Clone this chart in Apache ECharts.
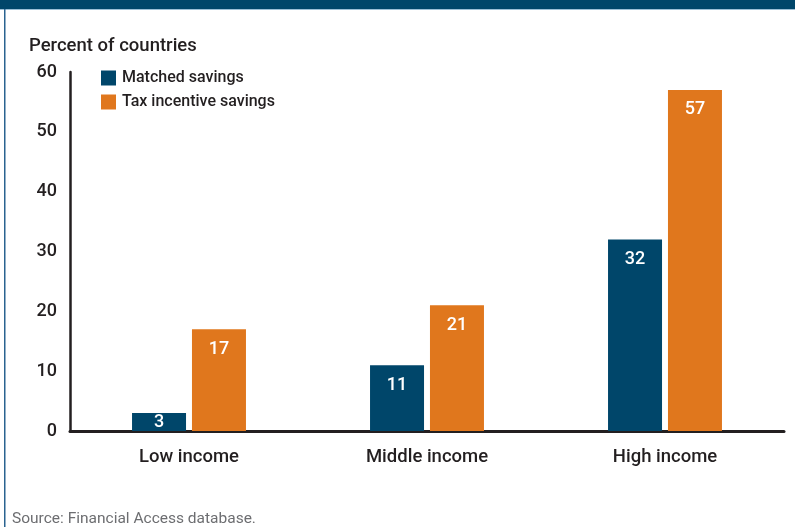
<!DOCTYPE html>
<html>
<head>
<meta charset="utf-8">
<script src="https://cdn.jsdelivr.net/npm/echarts@6/dist/echarts.min.js"></script>
<style>
  html, body { margin: 0; padding: 0; background: #fff; }
  #chart { width: 795px; height: 527px; }
</style>
</head>
<body>
<div id="chart"></div>
<script>
// Share of countries offering savings incentives, by income group
const categories = ['Low income', 'Middle income', 'High income'];
const matchedSavings = [3, 11, 32];
const taxIncentiveSavings = [17, 21, 57];
const seriesNames = ['Matched savings', 'Tax incentive savings'];
const yTicks = { min: 0, max: 60, interval: 10 };

const FONT = 'Roboto';
const BLUE = '#00466a';
const ORANGE = '#e0771d';
const INK = '#231f20';

const chart = echarts.init(document.getElementById('chart'), null, { renderer: 'canvas' });

function valueLabel(v) {
  // short bars get their label centred, tall bars near the top
  return {
    show: true,
    position: v < 6 ? 'inside' : 'insideTop',
    distance: 11,
    color: '#ffffff',
    fontFamily: FONT,
    fontWeight: 500,
    fontSize: 18
  };
}

chart.setOption({
  backgroundColor: '#ffffff',
  animation: false,
  graphic: [
    { type: 'rect', shape: { x: 0, y: 0, width: 795, height: 9 }, style: { fill: BLUE } },
    { type: 'rect', shape: { x: 0, y: 9, width: 795, height: 1 }, style: { fill: '#9bbfd6' } },
    { type: 'rect', shape: { x: 4, y: 9, width: 1.5, height: 518 }, style: { fill: '#2a6390' } },
    {
      type: 'text', left: 29, top: 37,
      style: { text: 'Percent of countries', fontFamily: FONT, fontSize: 18.5, fontWeight: 500, fill: INK }
    },
    {
      type: 'text', left: 12, top: 511,
      style: { text: 'Source: Financial Access database.', fontFamily: FONT, fontSize: 15.5, fill: '#6d6e71' }
    }
  ],
  legend: {
    orient: 'vertical',
    left: 101,
    top: 70,
    padding: 0,
    itemWidth: 15,
    itemHeight: 15,
    itemGap: 8,
    icon: 'rect',
    data: seriesNames,
    textStyle: { fontFamily: FONT, fontSize: 16, fontWeight: 500, color: INK, padding: [0, 0, 0, 1] }
  },
  grid: { left: 70, right: 11, top: 72, bottom: 96, containLabel: false },
  xAxis: {
    type: 'category',
    data: categories,
    axisLine: { show: true, lineStyle: { color: INK, width: 3 } },
    axisTick: { show: false },
    axisLabel: { margin: 17, fontFamily: FONT, fontSize: 18.5, fontWeight: 500, color: INK }
  },
  yAxis: {
    type: 'value',
    min: yTicks.min,
    max: yTicks.max,
    interval: yTicks.interval,
    axisLine: { show: true, lineStyle: { color: INK, width: 2.5 } },
    axisTick: { show: false },
    splitLine: { show: false },
    axisLabel: { margin: 13, fontFamily: FONT, fontSize: 18, fontWeight: 500, color: INK, padding: [3, 0, 0, 0] }
  },
  series: [
    {
      name: seriesNames[0],
      type: 'bar',
      barWidth: 54,
      barGap: '11%',
      itemStyle: { color: BLUE },
      data: matchedSavings.map(v => ({ value: v, label: valueLabel(v) }))
    },
    {
      name: seriesNames[1],
      type: 'bar',
      barWidth: 54,
      barGap: '11%',
      itemStyle: { color: ORANGE },
      data: taxIncentiveSavings.map(v => ({ value: v, label: valueLabel(v) }))
    }
  ]
});
</script>
</body>
</html>
